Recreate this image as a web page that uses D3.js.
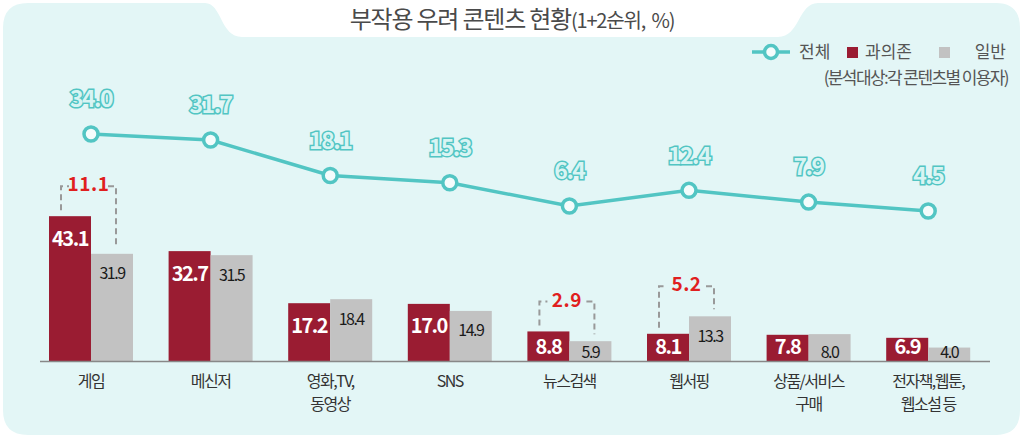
<!DOCTYPE html>
<html><head><meta charset="utf-8">
<script src="https://cdn.jsdelivr.net/npm/d3@7"></script>
<style>
html,body{margin:0;padding:0;background:#fff;}
svg{display:block;font-family:"Noto Sans CJK KR","Noto Sans",sans-serif;}
</style></head>
<body>
<svg id="c" width="1024" height="439"></svg>
<script>
const categories = ["게임","메신저","영화,TV,\n동영상","SNS","뉴스검색","웹서핑","상품/서비스\n구매","전자책,웹툰,\n웹소설 등"];
const totalValues = [34.0,31.7,18.1,15.3,6.4,12.4,7.9,4.5];
const addictValues = [43.1,32.7,17.2,17.0,8.8,8.1,7.8,6.9];
const generalValues = [31.9,31.5,18.4,14.9,5.9,13.3,8.0,4.0];
const gaps = [{i:0,label:"11.1"},{i:4,label:"2.9"},{i:5,label:"5.2"}];
const seriesNames = ["전체","과의존","일반"];

const svg = d3.select("#c");
const teal = "#52c5c3", maroon = "#9a1c32", grey = "#c2c2c2", bg = "#e3f6f6";

// panel
const p = d3.path();
p.moveTo(3,28); p.quadraticCurveTo(3,3,28,3); p.lineTo(205,3);
p.bezierCurveTo(222,3,220,37,242,37); p.lineTo(778,37);
p.bezierCurveTo(800,37,798,3,818,3); p.lineTo(996,3);
p.quadraticCurveTo(1020,3,1020,28); p.lineTo(1020,410);
p.quadraticCurveTo(1020,435,996,435); p.lineTo(28,435);
p.quadraticCurveTo(3,435,3,410); p.closePath();
svg.append("path").attr("d",p.toString()).attr("fill",bg);

// title
const t = svg.append("text").attr("x",512).attr("y",28).attr("text-anchor","middle")
  .attr("fill","#4a4a4a").style("letter-spacing","-1.2px").style("white-space","pre");
t.append("tspan").attr("font-size",24).text("부작용 우려 콘텐츠 현황");
t.append("tspan").attr("font-size",20).text("(1+2순위,  %)");

const x = d3.scaleBand().domain(d3.range(categories.length)).range([31.2,988]).padding(0);
const bw = 42;
const y = d3.scaleLinear().domain([0,50]).range([361,193]);
const yl = d3.scaleLinear().domain([0,34]).range([222.7,134]);

// bars
const g = svg.append("g");
categories.forEach((c,i)=>{
  const cx = x(i)+x.bandwidth()/2;
  const a = addictValues[i], b = generalValues[i];
  g.append("rect").attr("x",cx-bw).attr("y",y(a)).attr("width",bw).attr("height",y(0)-y(a)).attr("fill",maroon);
  g.append("rect").attr("x",cx).attr("y",y(b)).attr("width",bw).attr("height",y(0)-y(b)).attr("fill",grey);
  g.append("text").attr("x",cx-bw/2).attr("y",Math.min(y(a)+24,349)).attr("text-anchor","middle")
    .attr("dominant-baseline","middle").attr("fill","#fff").attr("font-size",20).attr("font-weight","bold")
    .style("letter-spacing","-1.5px").text(a.toFixed(1));
  g.append("text").attr("x",cx+bw/2).attr("y",Math.min(y(b)+21,354)).attr("text-anchor","middle")
    .attr("dominant-baseline","middle").attr("fill","#1a1a1a").attr("font-size",16)
    .style("letter-spacing","-1.5px").text(b.toFixed(1));
  const lines = c.split("\n");
  lines.forEach((l,k)=>{
    svg.append("text").attr("x",cx).attr("y",387+k*23).attr("text-anchor","middle")
      .attr("fill","#333").attr("font-size",16).style("letter-spacing","-1.5px").text(l);
  });
});
// baseline
svg.append("line").attr("x1",40).attr("x2",990).attr("y1",y(0)+0.5).attr("y2",y(0)+0.5)
  .attr("stroke","#888").attr("stroke-width",1.5);

// gap brackets
gaps.forEach(d=>{
  const cx = x(d.i)+x.bandwidth()/2;
  const a = addictValues[d.i], b = generalValues[d.i];
  const x1 = cx-bw+12, x2 = cx+bw-17;
  const top = Math.min(y(a),y(b)) - 30;
  const lg = svg.append("g").attr("fill","none").attr("stroke","#999").attr("stroke-width",2).attr("stroke-dasharray","6,4");
  lg.append("path").attr("d",`M${x1},${y(a)-6}V${top}H${x1+8}`);
  lg.append("path").attr("d",`M${x2-8},${top}H${x2}V${y(b)-7}`);
  svg.append("text").attr("x",(x1+x2)/2).attr("y",top).attr("text-anchor","middle").attr("dominant-baseline","middle")
    .attr("fill","#e01f1f").attr("font-size",19).attr("font-weight","bold").style("letter-spacing","0.5px").text(d.label);
});

// line
const line = d3.line().x((d,i)=>x(i)+x.bandwidth()/2).y(d=>yl(d));
svg.append("path").attr("d",line(totalValues)).attr("fill","none").attr("stroke",teal).attr("stroke-width",3.5);
totalValues.forEach((v,i)=>{
  const cx = x(i)+x.bandwidth()/2;
  svg.append("circle").attr("cx",cx).attr("cy",yl(v)).attr("r",7).attr("fill","#f4fcfc").attr("stroke",teal).attr("stroke-width",3.5);
  svg.append("text").attr("x",cx).attr("y",yl(v)-33).attr("text-anchor","middle").attr("dominant-baseline","middle")
    .attr("fill","#d8f4f3").attr("stroke",teal).attr("stroke-width",3).style("paint-order","stroke")
    .attr("font-size",23).attr("font-weight","bold").style("letter-spacing","-1.5px").text(v.toFixed(1));
});

// legend
const lgd = svg.append("g");
lgd.append("line").attr("x1",752).attr("x2",790).attr("y1",52).attr("y2",52).attr("stroke",teal).attr("stroke-width",3.5);
lgd.append("circle").attr("cx",771).attr("cy",52).attr("r",6.5).attr("fill","#f4fcfc").attr("stroke",teal).attr("stroke-width",3.5);
lgd.append("text").attr("x",799).attr("y",58).attr("font-size",17).attr("fill","#555").text(seriesNames[0]);
lgd.append("rect").attr("x",847).attr("y",47).attr("width",11).attr("height",11).attr("fill",maroon);
lgd.append("text").attr("x",865).attr("y",58).attr("font-size",17).attr("fill","#555").text(seriesNames[1]);
lgd.append("rect").attr("x",939).attr("y",47).attr("width",11).attr("height",11).attr("fill",grey);
lgd.append("text").attr("x",1006).attr("y",58).attr("text-anchor","end").attr("font-size",17).attr("fill","#555").text(seriesNames[2]);
lgd.append("text").attr("x",1008).attr("y",84).attr("text-anchor","end").attr("font-size",17).attr("fill","#555")
  .style("letter-spacing","-1.6px").text("(분석대상:각 콘텐츠별 이용자)");
</script>
</body></html>
